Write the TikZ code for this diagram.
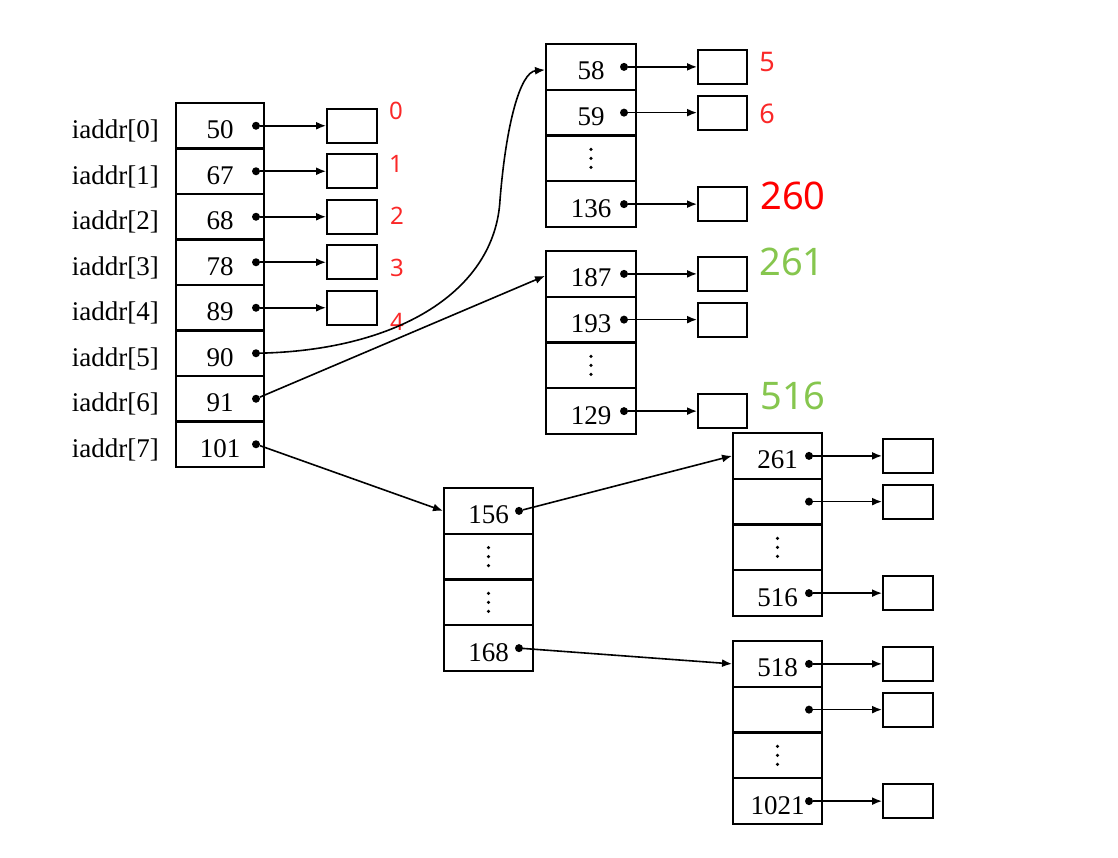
\documentclass[tikz,border=0pt]{standalone}
\usepackage{fontspec}
\setmainfont{Liberation Serif}
\newfontfamily\lblfont{Noto Sans}
\usetikzlibrary{arrows.meta}
\definecolor{lblred}{RGB}{250,40,40}
\definecolor{bigred}{RGB}{255,0,0}
\definecolor{lblgreen}{RGB}{134,198,78}
\begin{document}
\begin{tikzpicture}[x=1pt,y=-1pt,
  cell/.style={draw, line width=2pt, minimum width=88pt, minimum height=45.6pt, inner sep=0pt,
    font=\fontsize{27}{30}\selectfont, text height=26pt, text depth=0pt},
  ptr/.style={circle, fill, inner sep=0pt, minimum size=8pt},
  leaf/.style={draw, line width=2pt, minimum width=50pt, minimum height=34pt, inner sep=0pt},
  link/.style={line width=1.6pt, -{Latex[length=10pt,width=8pt]}},
  idx/.style={font=\fontsize{27}{30}\selectfont, anchor=east, inner sep=0pt, text height=26pt, text depth=0pt},
  rlbl/.style={font=\lblfont\fontsize{24}{26}\selectfont, text=lblred, inner sep=0pt},
  blbl/.style={font=\lblfont\fontsize{38}{40}\selectfont, inner sep=0pt}
]
\newcommand\celldots[1]{\foreach \dy in {-9,0,9} {\fill ([yshift=\dy pt]#1.center) circle (1.8pt);}}
\useasboundingbox (0,0) rectangle (1118,857);

% main table
\foreach \v [count=\i from 0] in {50,67,68,78,89,90,91,101} {
  \node[cell] (m\i) at (220,{103+45.5*(\i+0.5)}) {\v};
  \node[idx] (l\i) at (159,{103+45.5*(\i+0.5)}) {iaddr[\i]};
  \node[ptr] (md\i) at ([xshift=-9pt]m\i.east) {};
}
\foreach \i in {0,...,4} {
  \node[leaf] (b\i) at (352,{103+45.5*(\i+0.5)}) {};
  \draw[link] (md\i) -- (b\i.west);
}
\node[rlbl] (n0) at (396,111) {0};
\node[rlbl] (n1) at (396,164) {1};
\node[rlbl] (n2) at (397,216) {2};
\node[rlbl] (n3) at (397,268) {3};
\node[rlbl] (n4) at (397,322) {4};

% table 2
\node[cell, minimum width=90pt] (ta0) at (591,{44+45.75*0.5}) {58};
\node[cell, minimum width=90pt] (ta1) at (591,{44+45.75*1.5}) {59};
\node[cell, minimum width=90pt] (ta2) at (591,{44+45.75*2.5}) {};
\node[cell, minimum width=90pt] (ta3) at (591,{44+45.75*3.5}) {136};
\celldots{ta2}
\foreach \i in {0,1,3} {
  \node[ptr] (tad\i) at ([xshift=-13pt]ta\i.east) {};
  \node[leaf, minimum width=49pt] (tab\i) at (722.5,{44+45.75*(\i+0.5)}) {};
  \draw[link] (tad\i) -- (tab\i.west);
}
\node[rlbl, font=\lblfont\fontsize{27}{29}\selectfont] (n5) at (767,62) {5};
\node[rlbl, font=\lblfont\fontsize{27}{29}\selectfont] (n6) at (767,114) {6};
\node[blbl, text=bigred] (n260) at (793,196) {260};

% table 3
\node[cell, minimum width=90pt] (tb0) at (591,{251+45.75*0.5}) {187};
\node[cell, minimum width=90pt] (tb1) at (591,{251+45.75*1.5}) {193};
\node[cell, minimum width=90pt] (tb2) at (591,{251+45.75*2.5}) {};
\node[cell, minimum width=90pt] (tb3) at (591,{251+45.75*3.5}) {129};
\celldots{tb2}
\foreach \i in {0,1,3} {
  \node[ptr] (tbd\i) at ([xshift=-13pt]tb\i.east) {};
  \node[leaf, minimum width=49pt] (tbb\i) at (722.5,{251+45.75*(\i+0.5)}) {};
  \draw[link] (tbd\i) -- (tbb\i.west);
}
\node[blbl, text=lblgreen] (n261) at (792,262) {261};
\node[blbl, text=lblgreen] (n516) at (793,396) {516};

% table 4
\node[cell, minimum width=89pt] (tc0) at (488.5,{488+45.75*0.5}) {156};
\node[cell, minimum width=89pt] (tc1) at (488.5,{488+45.75*1.5}) {};
\node[cell, minimum width=89pt] (tc2) at (488.5,{488+45.75*2.5}) {};
\node[cell, minimum width=89pt] (tc3) at (488.5,{488+45.75*3.5}) {168};
\celldots{tc1}
\celldots{tc2}
\node[ptr] (tcd0) at ([xshift=-15pt]tc0.east) {};
\node[ptr] (tcd3) at ([xshift=-15pt]tc3.east) {};

% table 5
\node[cell, minimum width=89pt] (td0) at (777.5,{433+45.75*0.5}) {261};
\node[cell, minimum width=89pt] (td1) at (777.5,{433+45.75*1.5}) {};
\node[cell, minimum width=89pt] (td2) at (777.5,{433+45.75*2.5}) {};
\node[cell, minimum width=89pt] (td3) at (777.5,{433+45.75*3.5}) {516};
\celldots{td2}
\foreach \i in {0,1,3} {
  \node[ptr] (tdd\i) at ([xshift=-14pt]td\i.east) {};
  \node[leaf] (tdb\i) at (908,{433+45.75*(\i+0.5)}) {};
  \draw[link] (tdd\i) -- (tdb\i.west);
}

% table 6
\node[cell, minimum width=89pt] (te0) at (777.5,{641+45.75*0.5}) {518};
\node[cell, minimum width=89pt] (te1) at (777.5,{641+45.75*1.5}) {};
\node[cell, minimum width=89pt] (te2) at (777.5,{641+45.75*2.5}) {};
\node[cell, minimum width=89pt] (te3) at (777.5,{641+45.75*3.5}) {1021};
\celldots{te2}
\foreach \i in {0,1,3} {
  \node[ptr] (ted\i) at ([xshift=-14pt]te\i.east) {};
  \node[leaf] (teb\i) at (908,{641+45.75*(\i+0.5)}) {};
  \draw[link] (ted\i) -- (teb\i.west);
}

% pointer links between tables
\coordinate (bend) at (500,200);
\draw[link] (md5) .. controls (400,350) and (495,290) .. (bend)
  .. controls (506,125) and (520,72) .. ([yshift=-3pt]ta0.west);
\draw[link] (md6) -- ([yshift=-2pt]tb0.west);
\draw[link] (md7) -- (tc0.west);
\draw[link] (tcd0) -- (td0.west);
\draw[link] (tcd3) -- (te0.west);
\end{tikzpicture}
\end{document}
